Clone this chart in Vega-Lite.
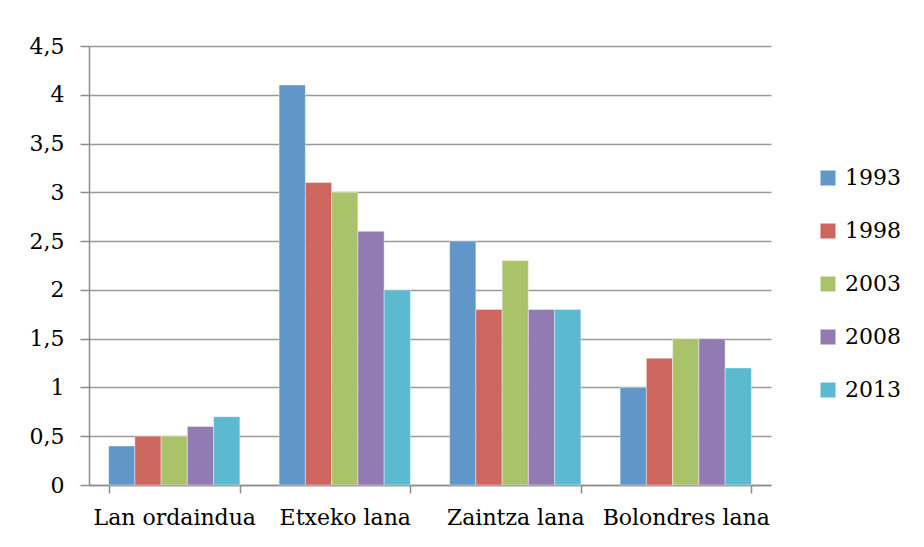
{
  "$schema": "https://vega.github.io/schema/vega-lite/v6.json",
  "autosize": {"type": "none"},
  "width": 682,
  "height": 439,
  "padding": {"left": 89, "top": 46, "right": 153, "bottom": 62},
  "background": "white",
  "data": {
    "values": [
      {"cat": "Lan ordaindua", "year": "1993", "v": 0.4},
      {"cat": "Lan ordaindua", "year": "1998", "v": 0.5},
      {"cat": "Lan ordaindua", "year": "2003", "v": 0.5},
      {"cat": "Lan ordaindua", "year": "2008", "v": 0.6},
      {"cat": "Lan ordaindua", "year": "2013", "v": 0.7},
      {"cat": "Etxeko lana", "year": "1993", "v": 4.1},
      {"cat": "Etxeko lana", "year": "1998", "v": 3.1},
      {"cat": "Etxeko lana", "year": "2003", "v": 3.0},
      {"cat": "Etxeko lana", "year": "2008", "v": 2.6},
      {"cat": "Etxeko lana", "year": "2013", "v": 2.0},
      {"cat": "Zaintza lana", "year": "1993", "v": 2.5},
      {"cat": "Zaintza lana", "year": "1998", "v": 1.8},
      {"cat": "Zaintza lana", "year": "2003", "v": 2.3},
      {"cat": "Zaintza lana", "year": "2008", "v": 1.8},
      {"cat": "Zaintza lana", "year": "2013", "v": 1.8},
      {"cat": "Bolondres lana", "year": "1993", "v": 1.0},
      {"cat": "Bolondres lana", "year": "1998", "v": 1.3},
      {"cat": "Bolondres lana", "year": "2003", "v": 1.5},
      {"cat": "Bolondres lana", "year": "2008", "v": 1.5},
      {"cat": "Bolondres lana", "year": "2013", "v": 1.2}
    ]
  },
  "mark": {"type": "bar", "stroke": "#ffffff", "strokeWidth": 0.6, "strokeOpacity": 0.7},
  "encoding": {
    "x": {
      "field": "cat",
      "type": "nominal",
      "sort": ["Lan ordaindua", "Etxeko lana", "Zaintza lana", "Bolondres lana"],
      "scale": {"paddingInner": 0.23, "paddingOuter": 0.115},
      "axis": {
        "title": null,
        "labelAngle": 0,
        "tickBand": "extent",
        "grid": false,
        "domainColor": "#8c8c8c",
        "domainWidth": 1.5,
        "tickColor": "#8c8c8c",
        "tickWidth": 1.5,
        "tickSize": 8,
        "labelPadding": 14,
        "labelFont": "'DejaVu Serif', serif",
        "labelFontSize": 22,
        "labelColor": "#000000"
      }
    },
    "xOffset": {
      "field": "year",
      "type": "nominal",
      "scale": {"paddingInner": 0, "paddingOuter": 0}
    },
    "y": {
      "field": "v",
      "type": "quantitative",
      "scale": {"domain": [0, 4.5], "nice": false},
      "axis": {
        "title": null,
        "values": [0, 0.5, 1, 1.5, 2, 2.5, 3, 3.5, 4, 4.5],
        "labelExpr": "replace(format(datum.value, '.1~f'), '.', ',')",
        "grid": true,
        "gridColor": "#999999",
        "gridWidth": 1.5,
        "domainColor": "#8c8c8c",
        "domainWidth": 1.5,
        "tickColor": "#8c8c8c",
        "tickWidth": 1.5,
        "tickSize": 9,
        "labelPadding": 16,
        "labelFont": "'DejaVu Serif', serif",
        "labelFontSize": 22,
        "labelColor": "#000000"
      }
    },
    "color": {
      "field": "year",
      "type": "nominal",
      "scale": {
        "domain": ["1993", "1998", "2003", "2008", "2013"],
        "range": ["#6096c8", "#cd665f", "#aac36a", "#927bb3", "#5bb9d0"]
      },
      "legend": {
        "title": null,
        "orient": "none",
        "legendX": 728,
        "legendY": 121,
        "symbolType": "square",
        "symbolSize": 225,
        "symbolStrokeWidth": 0,
        "symbolOpacity": 1,
        "labelFont": "'DejaVu Serif', serif",
        "labelFontSize": 22,
        "labelColor": "#000000",
        "labelOffset": 6,
        "rowPadding": 31
      }
    }
  },
  "config": {
    "view": {"stroke": null},
    "axis": {"gridDash": [], "labelFontWeight": "normal"}
  }
}
